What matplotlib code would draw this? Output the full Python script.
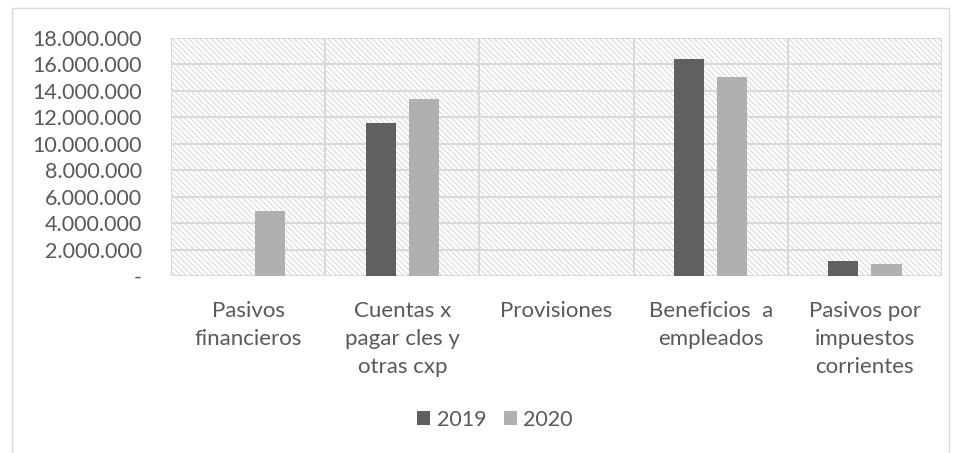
import matplotlib
matplotlib.use("Agg")
import matplotlib.pyplot as plt
from matplotlib.patches import Rectangle
import numpy as np

categories = ["Pasivos\nfinancieros", "Cuentas x\npagar cles y\notras cxp", "Provisiones",
              "Beneficios  a\nempleados", "Pasivos por\nimpuestos\ncorrientes"]
series_names = ["2019", "2020"]
values_2019 = [0, 11550000, 0, 16440000, 1160000]
values_2020 = [4920000, 13410000, 0, 15080000, 880000]
yticks = [0, 2000000, 4000000, 6000000, 8000000, 10000000, 12000000, 14000000, 16000000, 18000000]
ytick_labels = ["-", "2.000.000", "4.000.000", "6.000.000", "8.000.000", "10.000.000",
                "12.000.000", "14.000.000", "16.000.000", "18.000.000"]
colors = ["#606060", "#b0b0b0"]

plt.rcParams['font.family'] = ['Lato', 'DejaVu Sans']
plt.rcParams['hatch.linewidth'] = 0.6

W, H = 958, 453
fig = plt.figure(figsize=(W / 100, H / 100), dpi=100)
ax = fig.add_axes([171 / W, 1 - 276 / H, (942 - 171) / W, (276 - 38) / H])

# outer chart border
fig.patches.append(Rectangle((12 / W, -0.05), (949 - 12) / W, 1 - 8 / H + 0.05,
                             transform=fig.transFigure, fill=False,
                             edgecolor="#d9d9d9", linewidth=1.0))

x = np.arange(len(categories))
bw = 0.195
off = 0.14
ax.bar(x - off, values_2019, bw, color=colors[0], label=series_names[0], zorder=3)
ax.bar(x + off, values_2020, bw, color=colors[1], label=series_names[1], zorder=3)

ax.set_xlim(-0.5, len(categories) - 0.5)
ax.set_ylim(0, 18000000)

# hatched background
ax.add_patch(Rectangle((0, 0), 1, 1, transform=ax.transAxes, facecolor="white",
                       edgecolor="#d0d0d0", hatch="\\\\\\\\\\\\", linewidth=0, zorder=0))

for yv in yticks:
    ax.axhline(yv, color="#d9d9d9", linewidth=1.5, zorder=1)
for xv in np.arange(-0.5, len(categories), 1.0):
    ax.axvline(xv, color="#d9d9d9", linewidth=1.5, zorder=1)

for s in ax.spines.values():
    s.set_visible(False)

ax.set_yticks(yticks)
ax.set_yticklabels(ytick_labels)
ax.set_xticks(x)
ax.set_xticklabels(categories, linespacing=1.5, va="top", fontsize=16)
ax.tick_params(axis="y", length=0, pad=21, labelsize=15.5, labelcolor="#595959")
ax.tick_params(axis="x", length=0, pad=18, labelcolor="#595959")

leg = fig.legend(loc="center", bbox_to_anchor=(495 / W, 1 - 420 / H), ncol=2, frameon=False,
                 fontsize=15.5, handlelength=0.62, handleheight=0.62,
                 handletextpad=0.3, columnspacing=0.8, labelcolor="#595959")

fig.savefig("out.png", dpi=100)
